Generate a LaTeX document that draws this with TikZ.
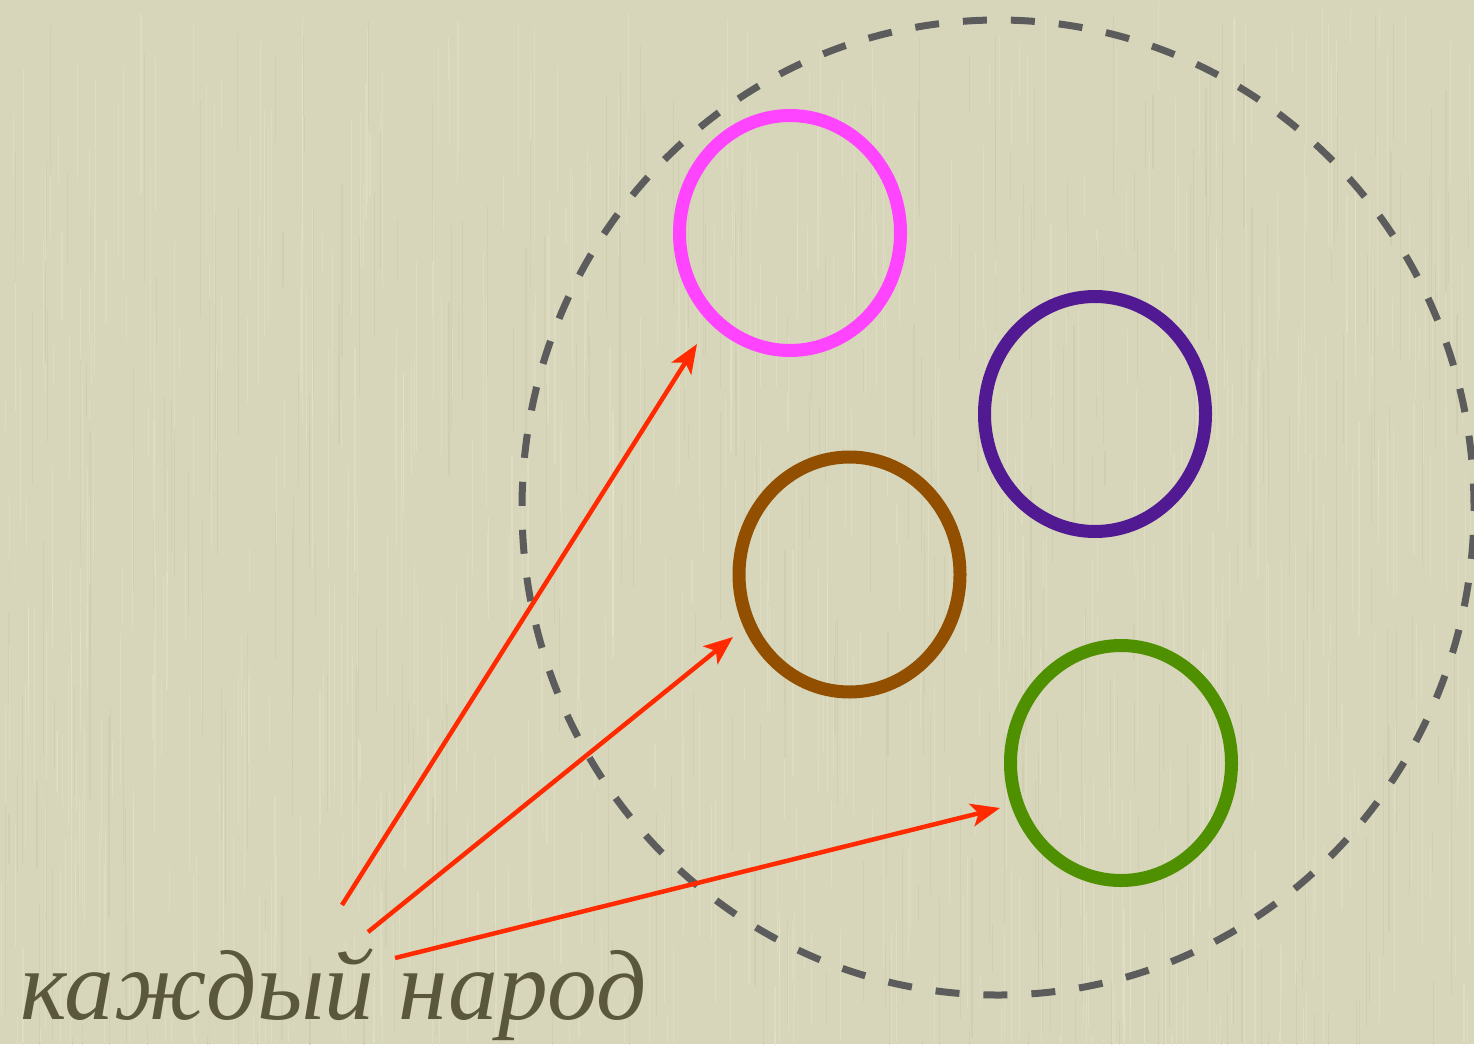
\documentclass[tikz,border=0pt]{standalone}
\usepackage{fontspec}
\setmainfont{Liberation Serif}
\usetikzlibrary{arrows.meta,shapes.geometric}
\definecolor{bg}{HTML}{D7D6BA}
\definecolor{grainlight}{HTML}{E6E5D0}
\definecolor{graindark}{HTML}{C9C8AA}
\definecolor{dashgray}{HTML}{5C5C5C}
\definecolor{ringpink}{HTML}{FF44FF}
\definecolor{ringpurple}{HTML}{511A93}
\definecolor{ringbrown}{HTML}{924F00}
\definecolor{ringgreen}{HTML}{4F9000}
\definecolor{arrowred}{HTML}{FF2A00}
\definecolor{textolive}{HTML}{5A573D}
\begin{document}
\begin{tikzpicture}[x=1pt,y=-1pt,
  ring/.style={ellipse, draw, line width=13pt, inner sep=0pt, minimum width=221pt, minimum height=235pt},
  arr/.style={draw=arrowred, line width=4.5pt, -{Stealth[length=29pt,width=23pt,inset=7pt]}},
  grain/.style={line width=1.1pt, opacity=0.45}]
\useasboundingbox (0,0) rectangle (1474,1044);
\fill[bg] (0,0) rectangle (1474,1044);
\pgfmathsetseed{12}
\foreach \i in {1,...,700}{
  \pgfmathsetmacro{\xx}{rnd*1474}
  \pgfmathsetmacro{\yy}{rnd*1100}
  \pgfmathsetmacro{\ll}{30+rnd*200}
  \draw[grain, grainlight] (\xx,\yy) -- ++(0,\ll);
}
\foreach \i in {1,...,350}{
  \pgfmathsetmacro{\xx}{rnd*1474}
  \pgfmathsetmacro{\yy}{rnd*1100}
  \pgfmathsetmacro{\ll}{30+rnd*200}
  \draw[grain, graindark] (\xx,\yy) -- ++(0,\ll);
}
\node[ellipse, draw=dashgray, line width=7pt, dash pattern=on 24pt off 24pt, inner sep=0pt,
  minimum width=952pt, minimum height=975pt] (group) at (998,507.5) {};
\node[ring, draw=ringpink] (pink) at (790,233) {};
\node[ring, draw=ringpurple] (purple) at (1095,414) {};
\node[ring, draw=ringbrown] (brown) at (849.5,574.5) {};
\node[ring, draw=ringgreen] (green) at (1121,763) {};
\coordinate (s1) at (342,905);
\coordinate (s2) at (368,932);
\coordinate (s3) at (395,958);
\coordinate (t1) at (697,344);
\coordinate (t2) at (733,637);
\coordinate (t3) at (1000,808);
\draw[arr] (s1) -- (t1);
\draw[arr] (s2) -- (t2);
\draw[arr] (s3) -- (t3);
\node[anchor=base west, inner sep=0pt, text=textolive, font=\fontsize{99.5}{112}\selectfont\itshape] (label) at (20,1019) {каждый народ};
\end{tikzpicture}
\end{document}
